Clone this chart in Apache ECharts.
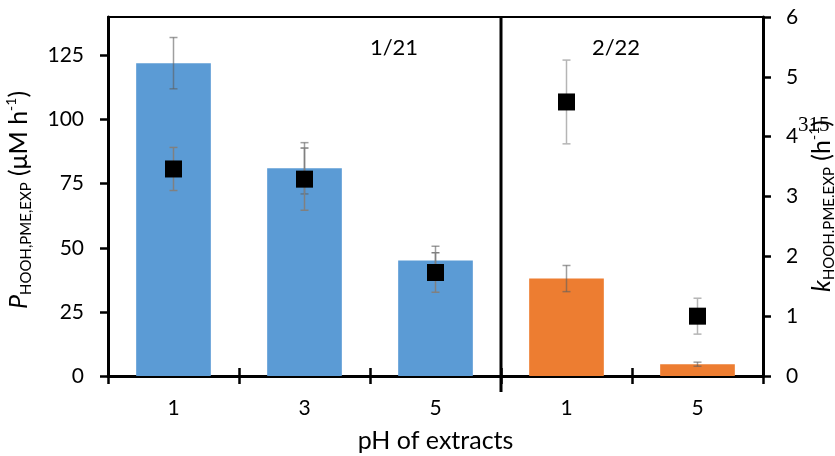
<!DOCTYPE html>
<html><head><meta charset="utf-8">
<script src="https://cdn.jsdelivr.net/npm/echarts@6/dist/echarts.min.js"></script>
<style>html,body{margin:0;padding:0;background:#fff}#c{width:835px;height:456px}</style>
</head><body><div id="c"></div>
<script>
// ---- data ----
const categories = ['1', '3', '5', '1', '5'];
const sampleGroups = ['1/21', '2/22'];
const groupOfCategory = [0, 0, 0, 1, 1];
const pValues = [122, 81, 45, 38, 4.6];      // P HOOH,PME,EXP (µM h-1), bars
const pErrors = [10, 10, 5.6, 5.1, 0.8];
const kValues = [3.46, 3.29, 1.73, 4.58, 1.00]; // k HOOH.PME.EXP (h-1), squares
const kErrors = [0.36, 0.52, 0.33, 0.70, 0.30];
const leftTicks = [0, 25, 50, 75, 100, 125];
const rightTicks = [0, 1, 2, 3, 4, 5, 6];
const strayLabel = '315';

// ---- styles ----
const FONT = 'Lato';
const groupColors = ['#5B9BD5', '#ED7D31'];
const barErrColor = 'rgba(95,95,95,0.6)';
const kErrColors = ['#808080', '#b5b5b5'];

function errRenderer(colorFn) {
  return function (params, api) {
    const i = api.value(0), v = api.value(1), e = api.value(2);
    const hi = api.coord([i, v + e]);
    const lo = api.coord([i, v - e]);
    const x = hi[0], w = 4;
    const c = colorFn(i);
    const st = () => ({ stroke: c, lineWidth: 1.5 });
    return {
      type: 'group', children: [
        { type: 'line', shape: { x1: x, y1: hi[1], x2: x, y2: lo[1] }, style: st() },
        { type: 'line', shape: { x1: x - w, y1: hi[1], x2: x + w, y2: hi[1] }, style: st() },
        { type: 'line', shape: { x1: x - w, y1: lo[1], x2: x + w, y2: lo[1] }, style: st() }
      ]
    };
  };
}

const lastOfFirstGroup = groupOfCategory.lastIndexOf(0);

const chart = echarts.init(document.getElementById('c'), null, { renderer: 'canvas' });
const axisLineStyle = { color: '#000', width: 3 };
const tickStyle = { color: '#000', width: 2.5 };
const labelStyle = { fontFamily: FONT, fontSize: 21, color: '#000' };

chart.setOption({
  animation: false,
  backgroundColor: '#fff',
  textStyle: { fontFamily: FONT },
  grid: { left: 108, right: 72, top: 17, bottom: 80, containLabel: false, outerBoundsMode: 'none' },
  xAxis: [
    {
      type: 'category', data: categories, position: 'bottom',
      axisLine: { onZero: false, lineStyle: axisLineStyle },
      axisTick: { show: true, length: 8, lineStyle: tickStyle },
      axisLabel: Object.assign({ margin: 22 }, labelStyle),
      name: 'pH of extracts', nameLocation: 'middle', nameGap: 52,
      nameTextStyle: { fontFamily: FONT, fontSize: 25, color: '#000' },
      splitLine: { show: false }
    },
    {
      type: 'category', data: categories, position: 'bottom',
      axisLine: { show: false, onZero: false },
      axisTick: { show: true, inside: true, length: 8, lineStyle: tickStyle },
      axisLabel: { show: false }, splitLine: { show: false }
    },
    {
      type: 'category', data: categories, position: 'top',
      axisLine: { show: true, onZero: false, lineStyle: { color: '#000', width: 2 } },
      axisTick: { show: false }, axisLabel: { show: false }, splitLine: { show: false }
    }
  ],
  yAxis: [
    {
      type: 'value', min: 0, max: 140, interval: 25, position: 'left',
      axisLine: { show: true, onZero: false, lineStyle: axisLineStyle },
      axisTick: { show: true, length: 8, customValues: leftTicks, lineStyle: tickStyle },
      axisLabel: Object.assign({ margin: 24, customValues: leftTicks }, labelStyle),
      splitLine: { show: false }
    },
    {
      type: 'value', min: 0, max: 6, interval: 1, position: 'right',
      axisLine: { show: true, onZero: false, lineStyle: axisLineStyle },
      axisTick: { show: true, length: 8, customValues: rightTicks, lineStyle: tickStyle },
      axisLabel: Object.assign({ margin: 23, customValues: rightTicks }, labelStyle),
      splitLine: { show: false }
    }
  ],
  series: [
    {
      type: 'bar', xAxisIndex: 0, yAxisIndex: 0, barWidth: '57%', z: 2,
      data: pValues.map((v, i) => ({ value: v, itemStyle: { color: groupColors[groupOfCategory[i]] } }))
    },
    {
      type: 'custom', xAxisIndex: 0, yAxisIndex: 0, z: 3,
      renderItem: errRenderer(() => barErrColor),
      encode: { x: 0, y: 1 },
      data: pValues.map((v, i) => [i, v, pErrors[i]])
    },
    {
      type: 'custom', xAxisIndex: 0, yAxisIndex: 1, z: 4,
      renderItem: errRenderer(i => kErrColors[groupOfCategory[i]]),
      encode: { x: 0, y: 1 },
      data: kValues.map((v, i) => [i, v, kErrors[i]])
    },
    {
      type: 'scatter', xAxisIndex: 0, yAxisIndex: 1, z: 5,
      symbol: 'rect', symbolSize: 17,
      itemStyle: { color: '#000', opacity: 1 },
      data: kValues
    },
    {
      // vertical divider between the two sample groups
      type: 'custom', xAxisIndex: 0, yAxisIndex: 0, z: 6, clip: false,
      data: [[lastOfFirstGroup, 0]],
      renderItem: function (params, api) {
        const a = api.coord([lastOfFirstGroup, 0]);
        const b = api.coord([lastOfFirstGroup + 1, 0]);
        const x = (a[0] + b[0]) / 2;
        const cs = params.coordSys;
        return {
          type: 'line',
          shape: { x1: x, y1: cs.y, x2: x, y2: cs.y + cs.height + 16 },
          style: { stroke: '#000', lineWidth: 3 }
        };
      }
    }
  ],
  graphic: [
    {
      type: 'text', x: 19, y: 200, rotation: Math.PI / 2,
      style: {
        text: '{i|P}{s|HOOH,PME,EXP}{m| (μM h}{u|-1}{m|)}',
        align: 'center', verticalAlign: 'middle', fill: '#000',
        rich: {
          i: { fontFamily: FONT, fontStyle: 'italic', fontSize: 25, lineHeight: 30, fill: '#000' },
          s: { fontFamily: FONT, fontSize: 15, lineHeight: 15, verticalAlign: 'bottom', fill: '#000' },
          m: { fontFamily: FONT, fontSize: 25, lineHeight: 30, fill: '#000' },
          u: { fontFamily: FONT, fontSize: 14, lineHeight: 14, verticalAlign: 'top', fill: '#000' }
        }
      }
    },
    {
      type: 'text', x: 822, y: 206, rotation: Math.PI / 2,
      style: {
        text: '{i|k}{s|HOOH.PME.EXP}{m| (h}{u|-1}{m|)}',
        align: 'center', verticalAlign: 'middle', fill: '#000',
        rich: {
          i: { fontFamily: FONT, fontStyle: 'italic', fontSize: 25, lineHeight: 30, fill: '#000' },
          s: { fontFamily: FONT, fontSize: 15, lineHeight: 15, verticalAlign: 'bottom', fill: '#000' },
          m: { fontFamily: FONT, fontSize: 25, lineHeight: 30, fill: '#000' },
          u: { fontFamily: FONT, fontSize: 14, lineHeight: 14, verticalAlign: 'top', fill: '#000' }
        }
      }
    },
    {
      type: 'text', x: 798, y: 125, z: 10,
      style: { text: strayLabel, fontFamily: 'Liberation Serif', fontSize: 21, fill: '#000', align: 'left', verticalAlign: 'middle' }
    },
    {
      type: 'text', x: 394, y: 48,
      style: { text: sampleGroups[0], fontFamily: FONT, fontSize: 22, fill: '#000', align: 'center', verticalAlign: 'middle' }
    },
    {
      type: 'text', x: 616, y: 48,
      style: { text: sampleGroups[1], fontFamily: FONT, fontSize: 22, fill: '#000', align: 'center', verticalAlign: 'middle' }
    }
  ]
});
</script>
</body></html>
